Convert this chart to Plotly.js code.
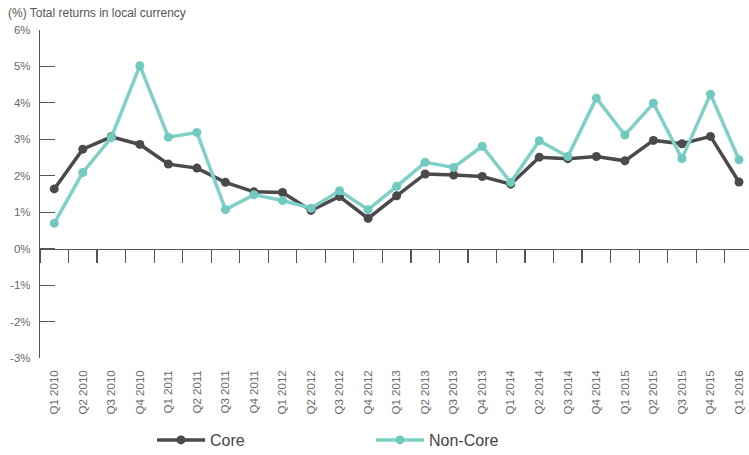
<!DOCTYPE html>
<html>
<head>
<meta charset="utf-8">
<script src="https://cdn.plot.ly/plotly-3.0.1.min.js"></script>
<style>
  html, body { margin: 0; padding: 0; background: #fff; }
  #chart { width: 749px; height: 455px; }
</style>
</head>
<body>
<div id="chart"></div>
<script>
// Quarterly total returns in local currency, %
const quarters = [
  "Q1 2010", "Q2 2010", "Q3 2010", "Q4 2010",
  "Q1 2011", "Q2 2011", "Q3 2011", "Q4 2011",
  "Q1 2012", "Q2 2012", "Q3 2012", "Q4 2012",
  "Q1 2013", "Q2 2013", "Q3 2013", "Q4 2013",
  "Q1 2014", "Q2 2014", "Q3 2014", "Q4 2014",
  "Q1 2015", "Q2 2015", "Q3 2015", "Q4 2015",
  "Q1 2016"
];
const coreReturns = [
  1.64, 2.73, 3.07, 2.86,
  2.32, 2.21, 1.82, 1.56,
  1.54, 1.05, 1.43, 0.83,
  1.45, 2.05, 2.02, 1.98,
  1.77, 2.51, 2.47, 2.53,
  2.41, 2.97, 2.88, 3.08,
  1.83
];
const nonCoreReturns = [
  0.70, 2.09, 3.05, 5.02,
  3.06, 3.19, 1.07, 1.48,
  1.32, 1.11, 1.59, 1.07,
  1.71, 2.37, 2.23, 2.81,
  1.82, 2.96, 2.53, 4.13,
  3.12, 3.99, 2.47, 4.24,
  2.44
];
const yTickValues = [-3, -2, -1, 0, 1, 2, 3, 4, 5, 6];
const yTickLabels = ["-3%", "-2%", "-1%", "0%", "1%", "2%", "3%", "4%", "5%", "6%"];

const coreColor = "#4a4a4a";
const nonCoreColor = "#7fd0c7";
const yMin = -3, yMax = 6;

const traces = [
  {
    name: "Core",
    x: quarters, y: coreReturns,
    xaxis: "x", yaxis: "y",
    type: "scatter", mode: "lines+markers",
    line: { color: coreColor, width: 3.5 },
    marker: { color: coreColor, size: 9 },
    cliponaxis: false
  },
  {
    name: "Non-Core",
    x: quarters, y: nonCoreReturns,
    xaxis: "x2", yaxis: "y",
    type: "scatter", mode: "lines+markers",
    line: { color: nonCoreColor, width: 3.5 },
    marker: { color: "#72c9c0", size: 9 },
    cliponaxis: false
  }
];

const layout = {
  width: 749, height: 455,
  margin: { l: 40, r: 0, t: 30, b: 97, autoexpand: false },
  paper_bgcolor: "#ffffff",
  plot_bgcolor: "#ffffff",
  font: { family: "Liberation Sans, Arial, sans-serif", color: "#666666" },
  showlegend: true,
  legend: {
    orientation: "h",
    xref: "container", yref: "container",
    x: 152 / 749, xanchor: "left",
    y: 15 / 455, yanchor: "middle",
    font: { size: 16, color: "#444444" },
    itemwidth: 48,
    entrywidth: 156,
    traceorder: "normal"
  },
  // category labels along the bottom edge
  xaxis: {
    type: "category",
    range: [-0.5, 24.35],
    showline: false, showgrid: false, zeroline: false,
    ticks: "",
    tickangle: -90,
    ticklabelstandoff: 9,
    tickfont: { size: 11.5, color: "#6a6a6a" },
    automargin: false,
    fixedrange: true
  },
  // axis line and boundary ticks drawn along the zero level
  xaxis2: {
    type: "category",
    matches: "x",
    overlaying: "x",
    anchor: "free",
    position: (0 - yMin) / (yMax - yMin),
    showline: true, linecolor: "#555555", linewidth: 1.2,
    showgrid: false, zeroline: false,
    ticks: "outside", ticklen: 13, tickwidth: 1.2, tickcolor: "#555555",
    tickson: "boundaries",
    showticklabels: false,
    automargin: false,
    fixedrange: true
  },
  yaxis: {
    range: [yMin, yMax],
    tickvals: yTickValues,
    ticktext: yTickLabels,
    showline: true, linecolor: "#555555", linewidth: 1.2,
    showgrid: false, zeroline: false,
    ticks: "inside", ticklen: 15, tickwidth: 1.2, tickcolor: "#555555",
    tickfont: { size: 11.5, color: "#6a6a6a" },
    ticklabelstandoff: 6,
    automargin: false,
    fixedrange: true
  },
  annotations: [
    {
      text: "(%) Total returns in local currency",
      xref: "paper", yref: "paper",
      x: 0, y: 1,
      xshift: -34, yshift: 17,
      xanchor: "left", yanchor: "middle",
      showarrow: false,
      font: { size: 12, color: "#555555" }
    }
  ]
};

Plotly.newPlot("chart", traces, layout, { displayModeBar: false, staticPlot: true });
</script>
</body>
</html>
